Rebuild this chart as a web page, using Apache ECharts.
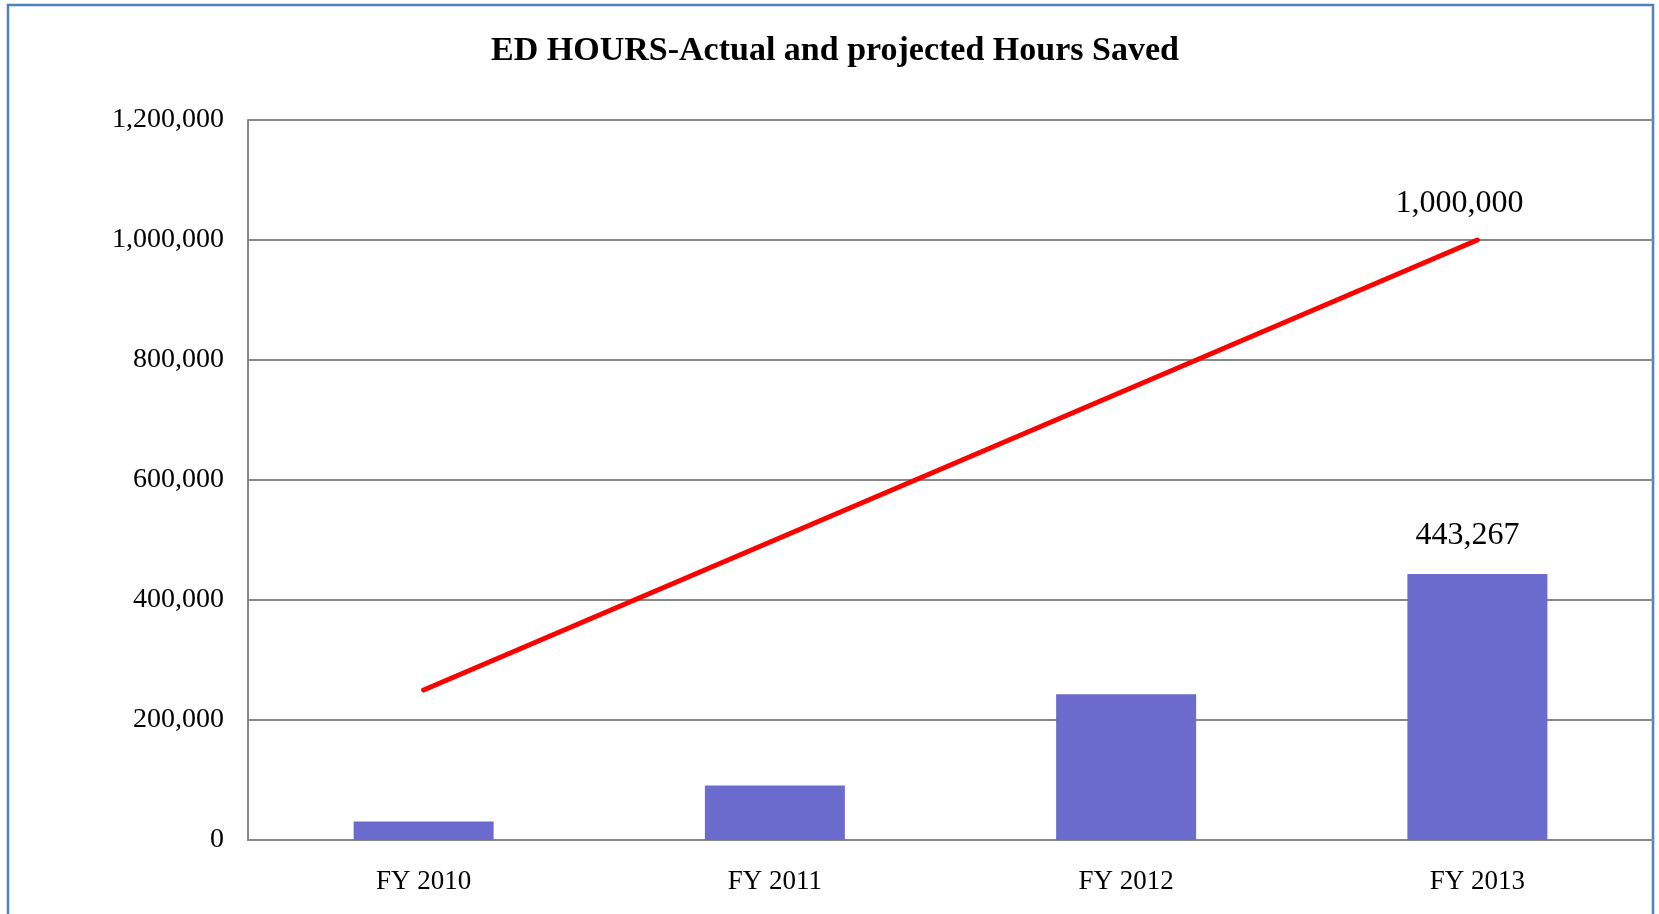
<!DOCTYPE html>
<html>
<head>
<meta charset="utf-8">
<title>ED HOURS</title>
<script src="https://cdn.jsdelivr.net/npm/echarts@6/dist/echarts.min.js"></script>
<style>
  html, body { margin: 0; padding: 0; background: #fff; }
  #chart { width: 1659px; height: 914px; }
</style>
</head>
<body>
<div id="chart"></div>
<script>
// 数据
const categories = ["FY 2010", "FY 2011", "FY 2012", "FY 2013"];
const actualHours = [31000, 91000, 243000, 443267];
const projectedHours = [250000, 500000, 750000, 1000000];
const yTicks = [0, 200000, 400000, 600000, 800000, 1000000, 1200000];

const serif = "'Liberation Serif', 'DejaVu Serif', serif";
const fmt = v => Number(v).toLocaleString("en-US");

// 只给最后一个点显示数值
function lastLabeled(values, distance, offset) {
  return values.map((v, i) => {
    if (i !== values.length - 1) return v;
    return {
      value: v,
      label: {
        show: true,
        position: "top",
        distance: distance,
        offset: offset,
        formatter: p => fmt(p.value),
        color: "#000",
        fontFamily: serif,
        fontSize: 32
      }
    };
  });
}

const myChart = echarts.init(document.getElementById("chart"));

let option = {
  animation: false,
  backgroundColor: "#fff",
  title: {
    text: "ED HOURS-Actual and projected Hours Saved",
    left: 830,
    textAlign: "center",
    top: 29,
    textStyle: {
      color: "#000",
      fontFamily: serif,
      fontWeight: "bold",
      fontSize: 34
    }
  },
  // 外框
  graphic: [
    {
      type: "rect",
      shape: { x: 8, y: 5, width: 1645, height: 1000 },
      style: { fill: "none", stroke: "#4f81bd", lineWidth: 2.5 },
      silent: true
    }
  ],
  grid: {
    left: 248,
    right: 6,
    top: 120,
    bottom: 74,
    containLabel: false
  },
  xAxis: {
    type: "category",
    data: categories,
    axisLine: { show: true, lineStyle: { color: "#888888", width: 2 } },
    axisTick: { show: false },
    axisLabel: {
      color: "#000",
      fontFamily: serif,
      fontSize: 27,
      margin: 28
    }
  },
  yAxis: {
    type: "value",
    min: yTicks[0],
    max: yTicks[yTicks.length - 1],
    interval: yTicks[1] - yTicks[0],
    axisLine: { show: true, lineStyle: { color: "#888888", width: 2 } },
    axisTick: { show: false },
    splitLine: { show: true, lineStyle: { color: "#888888", width: 2 } },
    axisLabel: {
      color: "#000",
      fontFamily: serif,
      fontSize: 28,
      margin: 24,
      formatter: v => fmt(v)
    }
  },
  series: [
    {
      name: "Actual",
      type: "bar",
      data: lastLabeled(actualHours, 22, [-10, 0]),
      barWidth: 140,
      itemStyle: { color: "#6b6bcd" },
      z: 2
    },
    {
      name: "Projected",
      type: "line",
      data: lastLabeled(projectedHours, 20, [-18, 0]),
      symbol: "circle",
      symbolSize: 1,
      showSymbol: true,
      itemStyle: { color: "#ff0000" },
      lineStyle: { color: "#ff0000", width: 5, cap: "round" },
      z: 3
    }
  ]
};
option && myChart.setOption(option);
</script>
</body>
</html>
